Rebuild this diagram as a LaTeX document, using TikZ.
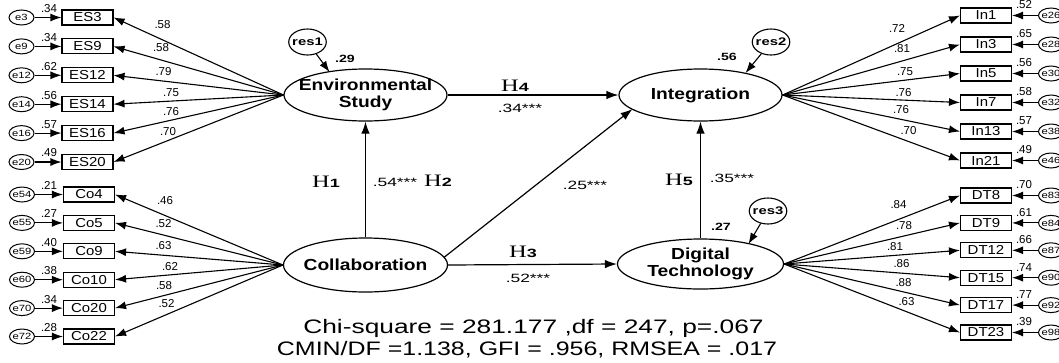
\documentclass[tikz,border=0pt]{standalone}
\usepackage{fontspec}
\setmainfont{Liberation Sans}
\newfontfamily\bottomf[FakeStretch=1.35]{Liberation Sans}
\newfontfamily\bottomg[FakeStretch=1.28]{Liberation Sans}
\newfontfamily\latf[FakeStretch=1.2]{Liberation Sans}
\newfontfamily\boxf[FakeStretch=1.15]{Liberation Sans}
\newfontfamily\loadf[FakeStretch=1.0]{Liberation Sans}
\newfontfamily\coeff[FakeStretch=1.45]{Liberation Sans}
\newfontfamily\resf[FakeStretch=1.35]{Liberation Sans}
\newfontfamily\ef[FakeStretch=1.25]{Liberation Sans}
\newfontfamily\hserif[FakeStretch=1.4]{Liberation Serif}
\newfontfamily\hdig[FakeStretch=1.5]{Liberation Sans}
\usetikzlibrary{shapes.geometric,arrows.meta,calc}
\newcommand\Hlab[1]{{\hserif\fontsize{17.5}{17.5}\selectfont H}{\hdig\bfseries\fontsize{12}{12}\selectfont #1}}
\begin{document}
\begin{tikzpicture}[x=1pt,y=-1pt,
  lat/.style={ellipse, draw, line width=1.2pt, minimum width=163pt, minimum height=52pt,
    inner xsep=-12pt, inner ysep=0pt, align=center, font=\latf\bfseries\fontsize{16}{17}\selectfont},
  ind/.style={rectangle, draw, line width=1.1pt, minimum width=51pt, minimum height=15pt,
    inner sep=0pt, font=\boxf\fontsize{13}{13}\selectfont},
  errv/.style={ellipse, draw, line width=1pt, minimum width=25pt, minimum height=15pt,
    inner sep=-2pt, font=\ef\fontsize{9}{9}\selectfont},
  resv/.style={ellipse, draw, line width=1.1pt, minimum width=37pt, minimum height=26pt,
    inner sep=-2pt, font=\resf\bfseries\fontsize{11}{11}\selectfont},
  ld/.style={inner sep=0pt, font=\loadf\fontsize{11.5}{11.5}\selectfont},
  rsq/.style={inner sep=0pt, font=\resf\bfseries\fontsize{10.5}{10.5}\selectfont},
  coef/.style={inner sep=0pt, font=\coeff\fontsize{12}{12}\selectfont},
  hyp/.style={inner sep=0pt},
  bot/.style={inner sep=0pt, font=\bottomf\fontsize{19.5}{19.5}\selectfont},
  botb/.style={inner sep=0pt, font=\bottomg\fontsize{19.5}{19.5}\selectfont},
  arr/.style={line width=1.1pt, -{Latex[length=11pt,width=8pt]}},
  sarr/.style={line width=1.2pt, -{Latex[length=12pt,width=8.5pt]}},
  rarr/.style={line width=1.1pt, -{Latex[length=11pt,width=8pt]}}
]
\useasboundingbox (0,0) rectangle (1059,362);
\fill[white] (0,0) rectangle (1059,362);

% latent variables
\node[lat] (env) at (365.5,95) {Environmental\\Study};
\node[lat] (int) at (700.5,95) {Integration};
\node[lat, minimum width=164pt, minimum height=54pt] (col) at (365.5,265) {Collaboration};
\node[lat, minimum width=166pt, minimum height=50pt] (dt) at (700.5,264) {Digital\\Technology};

% residuals
\node[resv] (res1) at (307.5,42) {res1};
\node[resv] (res2) at (771,42) {res2};
\node[resv] (res3) at (768,211) {res3};
\draw[rarr] (res1) -- ($(env.center)+(-36,-23)$);
\draw[rarr] (res2) -- ($(int.center)+(45,-22)$);
\draw[rarr] (res3) -- ($(dt.center)+(48,-20)$);
\node[rsq] (r1) at (345,59) {.29};
\node[rsq] (r2) at (727,57) {.56};
\node[rsq] (r3) at (721,227) {.27};

% structural paths
\draw[sarr] (env.east) -- (int.west);
\draw[sarr] (col.north) -- (env.south);
\draw[sarr] ($(col.center)+(79,-8)$) -- ($(int.center)+(-68,14)$);
\draw[sarr] (col.east) -- (dt.west);
\draw[sarr] (dt.north) -- (int.south);

\node[hyp] (h4) at (515,86) {\Hlab{4}};
\node[coef] (c4) at (520,108) {.34***};
\node[hyp] (h1) at (326,182) {\Hlab{1}};
\node[coef] (c1) at (395,182) {.54***};
\node[hyp] (h2) at (438,181) {\Hlab{2}};
\node[coef] (c2) at (585,185) {.25***};
\node[hyp] (h3) at (523,252) {\Hlab{3}};
\node[coef] (c3) at (528,278) {.52***};
\node[hyp] (h5) at (679,180) {\Hlab{5}};
\node[coef] (c5) at (732,178) {.35***};

% Environmental Study indicators
\foreach \n/\e/\y/\ev/\lv/\lx/\ly in {
  ES3/e3/17.5/.34/.58/162.5/25, ES9/e9/46.4/.34/.58/161/47.5,
  ES12/e12/75.3/.62/.79/163.5/71.5, ES14/e14/104.2/.56/.75/171/92.5,
  ES16/e16/133.1/.57/.76/171/111.5, ES20/e20/162/.49/.70/168/131.5}{
  \node[ind] (\n) at (87.5,\y) {\n};
  \node[errv] (\e) at (21.5,\y) {\e};
  \draw[arr] (\e) -- (\n.west);
  \draw[arr] (env.west) -- (\n.east);
  \node[ld] (v\n) at (49,\y-9) {\ev};
  \node[ld] (l\n) at (\lx,\ly) {\lv};
}
% Collaboration indicators
\foreach \n/\e/\y/\ev/\lv/\lx/\ly in {
  Co4/e54/194.5/.21/.46/165/201, Co5/e55/222.9/.27/.52/163.5/223.5,
  Co9/e59/251.3/.40/.63/163.5/245.5, Co10/e60/279.7/.38/.62/170/266.5,
  Co20/e70/308.1/.34/.58/164/285.5, Co22/e72/336.5/.28/.52/166.5/303.5}{
  \node[ind] (\n) at (89,\y) {\n};
  \node[errv] (\e) at (22,\y) {\e};
  \draw[arr] (\e) -- (\n.west);
  \draw[arr] (col.west) -- (\n.east);
  \node[ld] (v\n) at (49,\y-9) {\ev};
  \node[ld] (l\n) at (\lx,\ly) {\lv};
}
% Integration indicators
\foreach \n/\e/\y/\ev/\lv/\lx/\ly in {
  In1/e26/15.5/.52/.72/897/28.5, In3/e28/44.5/.65/.81/902/48.5,
  In5/e30/73.5/.56/.75/905/71.5, In7/e32/102.5/.58/.76/903.5/92.5,
  In13/e38/131.5/.57/.76/901/110, In21/e46/160.5/.49/.70/908.5/130.5}{
  \node[ind] (\n) at (986,\y) {\n};
  \node[errv] (\e) at (1051,\y) {\e};
  \draw[arr] (\e) -- (\n.east);
  \draw[arr] (int.east) -- (\n.west);
  \node[ld] (v\n) at (1024,\y-10.5) {\ev};
  \node[ld] (l\n) at (\lx,\ly) {\lv};
}
% Digital Technology indicators
\foreach \n/\e/\y/\ev/\lv/\lx/\ly in {
  DT8/e83/195.5/.70/.84/898.5/205, DT9/e84/222.9/.61/.78/904/226,
  DT12/e87/250.3/.66/.81/895/246.5, DT15/e90/277.7/.74/.86/901.5/264,
  DT17/e92/305.1/.77/.88/903.5/282.5, DT23/e98/332.5/.39/.63/906.5/301.5}{
  \node[ind] (\n) at (986,\y) {\n};
  \node[errv] (\e) at (1051,\y) {\e};
  \draw[arr] (\e) -- (\n.east);
  \draw[arr] (dt.east) -- (\n.west);
  \node[ld] (v\n) at (1024,\y-10.5) {\ev};
  \node[ld] (l\n) at (\lx,\ly) {\lv};
}

% fit indices
\node[bot, anchor=base] (chi) at (533.5,333) {Chi-square = 281.177 ,df = 247, p=.067};
\node[botb, anchor=base] (cmin) at (527,355) {CMIN/DF =1.138, GFI = .956, RMSEA = .017};
\end{tikzpicture}
\end{document}
